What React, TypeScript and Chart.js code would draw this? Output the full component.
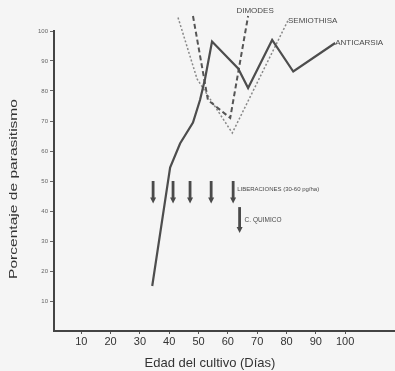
import React, { useEffect, useRef } from "react";
import { Chart, registerables } from "chart.js";

Chart.register(...registerables);

// ---- data ----
const xTickValues = [10, 20, 30, 40, 50, 60, 70, 80, 90, 100];
const yTickValues = [10, 20, 30, 40, 50, 60, 70, 80, 90, 100];

const anticarsiaDays = [34.2, 40.3, 43.7, 48.1, 50.5, 52.2, 54.6, 63.5, 66.9, 75.1, 82.3, 96.6];
const anticarsiaPct = [15, 54.5, 62.5, 69.5, 77, 84, 96.5, 87.5, 81, 97, 86.5, 96];

const dimodesDays = [48.1, 53.2, 60.8, 66.9];
const dimodesPct = [105, 77, 71, 105];

const semiothisaDays = [43, 49.5, 61.5, 80.5];
const semiothisaPct = [104.5, 84, 66, 103.5];

const liberacionDays = [34.5, 41.3, 47.1, 54.3, 61.8];
const liberacionRange = [50, 42.5];
const quimicoDay = 64;
const quimicoRange = [41.3, 32.7];

const seriesNames = ["ANTICARSIA", "DIMODES", "SEMIOTHISA"];
const liberacionLabel = "LIBERACIONES (30-60 pg/ha)";
const quimicoLabel = "C. QUIMICO";
const xTitle = "Edad del cultivo (Días)";
const yTitle = "Porcentaje de parasitismo";

const toPoints = (xs: number[], ys: number[]) => xs.map((x, i) => ({ x, y: ys[i] }));

const FONT = "'Liberation Sans', Arial, sans-serif";
const INK = "#4a4a4a";

function drawArrow(ctx: CanvasRenderingContext2D, x: number, y1: number, y2: number) {
  ctx.save();
  ctx.strokeStyle = INK;
  ctx.fillStyle = INK;
  ctx.lineWidth = 2.8;
  ctx.beginPath();
  ctx.moveTo(x, y1);
  ctx.lineTo(x, y2 - 4);
  ctx.stroke();
  ctx.beginPath();
  ctx.moveTo(x - 3, y2 - 6);
  ctx.lineTo(x + 3, y2 - 6);
  ctx.lineTo(x, y2);
  ctx.closePath();
  ctx.fill();
  ctx.restore();
}

const overlayPlugin = {
  id: "overlay",
  afterDatasetsDraw(chart: any) {
    const { ctx, scales } = chart;
    const xs = scales.x;
    const ys = scales.y;
    liberacionDays.forEach((d) => {
      drawArrow(ctx, xs.getPixelForValue(d), ys.getPixelForValue(liberacionRange[0]), ys.getPixelForValue(liberacionRange[1]));
    });
    drawArrow(ctx, xs.getPixelForValue(quimicoDay), ys.getPixelForValue(quimicoRange[0]), ys.getPixelForValue(quimicoRange[1]));

    ctx.save();
    ctx.fillStyle = INK;
    ctx.textBaseline = "middle";
    ctx.textAlign = "left";
    ctx.font = `6px ${FONT}`;
    ctx.fillText(
      liberacionLabel,
      xs.getPixelForValue(liberacionDays[4]) + 4,
      ys.getPixelForValue((liberacionRange[0] + liberacionRange[1]) / 2) - 3
    );
    ctx.font = `6.5px ${FONT}`;
    ctx.fillText(
      quimicoLabel,
      xs.getPixelForValue(quimicoDay) + 5,
      ys.getPixelForValue((quimicoRange[0] + quimicoRange[1]) / 2)
    );

    ctx.font = `8px ${FONT}`;
    const a = anticarsiaDays.length - 1;
    ctx.fillText(seriesNames[0], xs.getPixelForValue(anticarsiaDays[a]), ys.getPixelForValue(anticarsiaPct[a]));
    const d = dimodesDays.length - 1;
    ctx.textAlign = "center";
    ctx.fillText(seriesNames[1], xs.getPixelForValue(dimodesDays[d]) + 7, ys.getPixelForValue(dimodesPct[d]) - 5);
    const s = semiothisaDays.length - 1;
    ctx.textAlign = "left";
    ctx.fillText(seriesNames[2], xs.getPixelForValue(semiothisaDays[s]), ys.getPixelForValue(semiothisaPct[s]));

    const area = chart.chartArea;
    ctx.fillStyle = "#333";
    ctx.font = `13px ${FONT}`;
    ctx.textAlign = "center";
    ctx.fillText(xTitle, 210, area.bottom + 32);
    ctx.translate(14, 189);
    ctx.rotate(-Math.PI / 2);
    ctx.font = `11px ${FONT}`;
    const w = ctx.measureText(yTitle).width;
    ctx.scale(180 / w, 1);
    ctx.fillText(yTitle, 0, 0);
    ctx.restore();
  },
};

export default function App() {
  const canvasRef = useRef<HTMLCanvasElement | null>(null);

  useEffect(() => {
    document.body.style.margin = "0";
    const canvas = canvasRef.current;
    if (!canvas) return;
    const chart = new Chart(canvas, {
      type: "line",
      data: {
        datasets: [
          {
            label: seriesNames[0],
            data: toPoints(anticarsiaDays, anticarsiaPct),
            borderColor: "#4d4d4d",
            borderWidth: 2.2,
            pointRadius: 0,
            tension: 0,
            clip: false as any,
          },
          {
            label: seriesNames[1],
            data: toPoints(dimodesDays, dimodesPct),
            borderColor: "#555",
            borderWidth: 2,
            borderDash: [5, 3],
            pointRadius: 0,
            tension: 0,
            clip: false as any,
          },
          {
            label: seriesNames[2],
            data: toPoints(semiothisaDays, semiothisaPct),
            borderColor: "#888",
            borderWidth: 1.5,
            borderDash: [2, 2],
            pointRadius: 0,
            tension: 0,
            clip: false as any,
          },
        ],
      },
      options: {
        animation: false,
        responsive: true,
        maintainAspectRatio: false,
        layout: { padding: { top: 31, left: 0, right: 0, bottom: 0 } },
        plugins: { legend: { display: false }, tooltip: { enabled: false } },
        scales: {
          x: {
            type: "linear",
            min: 0.7,
            max: 117,
            afterBuildTicks: (s: any) => {
              s.ticks = xTickValues.map((v) => ({ value: v }));
            },
            afterFit: (s: any) => {
              s.height = 40;
            },
            ticks: {
              font: { size: 11, family: FONT },
              color: "#333",
              padding: 1,
              maxRotation: 0,
              autoSkip: false,
            },
            grid: { drawOnChartArea: false, tickLength: 3, color: "#555" },
            border: { color: "#444", width: 2 },
          },
          y: {
            type: "linear",
            min: 0,
            max: 100,
            afterBuildTicks: (s: any) => {
              s.ticks = yTickValues.map((v) => ({ value: v }));
            },
            afterFit: (s: any) => {
              s.width = 54;
            },
            ticks: {
              font: { size: 6, family: FONT },
              color: "#666",
              padding: 2,
              autoSkip: false,
            },
            grid: { drawOnChartArea: false, tickLength: 4, color: "#666" },
            border: { color: "#444", width: 2 },
          },
        },
      },
      plugins: [overlayPlugin],
    });
    return () => chart.destroy();
  }, []);

  return (
    <div style={{ position: "fixed", left: 0, top: 0, width: 395, height: 371, background: "#f5f5f5" }}>
      <canvas ref={canvasRef} />
    </div>
  );
}
